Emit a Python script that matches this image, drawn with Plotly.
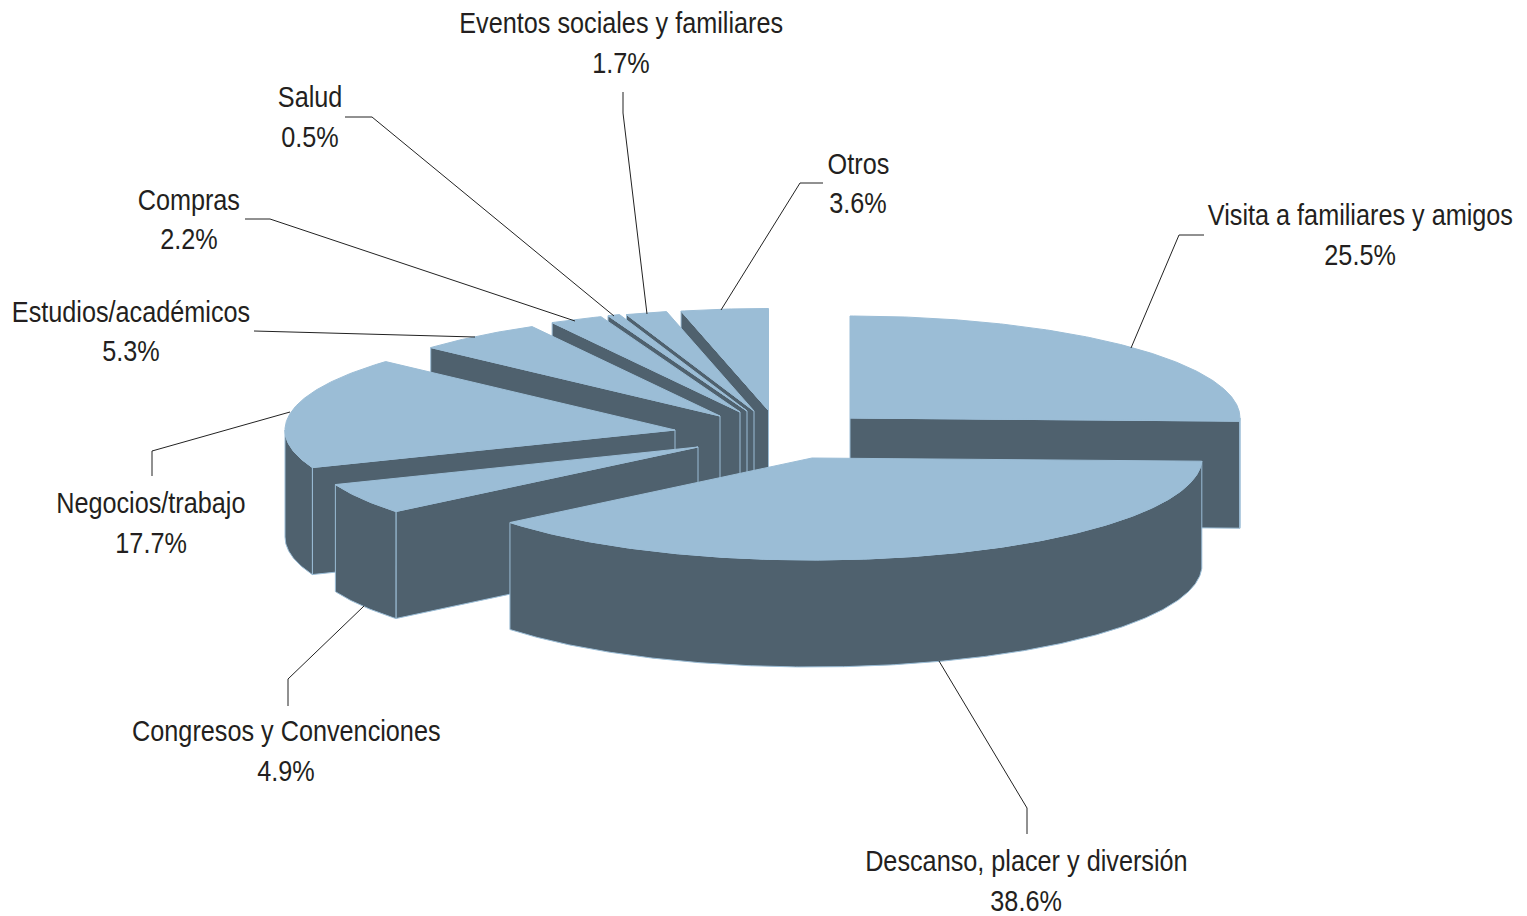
import math
import plotly.graph_objects as go

categories = ["Visita a familiares y amigos", "Descanso, placer y diversión", "Congresos y Convenciones",
              "Negocios/trabajo", "Estudios/académicos", "Compras", "Salud",
              "Eventos sociales y familiares", "Otros"]
values = [25.5, 38.6, 4.9, 17.7, 5.3, 2.2, 0.5, 1.7, 3.6]

# exploded slice apex in chart coordinates (layout, not data)
apex_x = [850, 812, 698, 675, 720, 740, 747, 754, 768.5]
apex_y = [418, 458, 447, 430, 416, 412, 411, 411, 410.5]
draw_order = [8, 7, 6, 5, 4, 3, 0, 2, 1]

label_x = [1360, 1026, 286, 151, 131, 189, 310, 621, 858]
label_y = [215, 861, 731, 503, 312, 200, 97, 23, 164]
pct_y = [255, 901, 771, 543, 351, 238.5, 136.5, 63, 203]
leaders = [
    ([1131, 1179, 1204], [348, 235, 235]),
    ([939, 1027, 1027], [661, 808, 834]),
    ([364, 288, 288], [606, 679, 706]),
    ([290, 152, 152], [412, 451, 476]),
    ([475, 270, 254], [337, 331, 331]),
    ([575, 270, 245], [321, 219, 219]),
    ([614, 372, 345], [316, 117, 117]),
    ([647, 623, 623], [314, 113, 92]),
    ([721, 800, 823], [310, 183, 183]),
]

RX, RY, DEPTH = 390, 102, 107
LIGHT, DARK, TEXT = "#9BBDD6", "#4F616E", "#231F20"

fig = go.Figure()


def poly(xs, ys, fill, edge, width=1):
    fig.add_trace(go.Scatter(x=xs + xs[:1], y=ys + ys[:1], mode="lines", fill="toself",
                             fillcolor=fill, line=dict(color=edge, width=width),
                             hoverinfo="skip", showlegend=False))


def pt(i, deg):
    r = math.radians(deg)
    return apex_x[i] + RX * math.sin(r), apex_y[i] - RY * math.cos(r)


# slice angles from values
starts, ends, acc = [], [], 0.0
total = sum(values)
for v in values:
    starts.append(acc / total * 360)
    acc += v
    ends.append(acc / total * 360)

for i in draw_order:
    a0, a1 = starts[i], ends[i]
    ax, ay = apex_x[i], apex_y[i]
    # radial faces facing the viewer
    for deg, normal in ((a0, a0 - 90), (a1, a1 + 90)):
        if math.cos(math.radians(normal)) < -1e-6:
            ex, ey = pt(i, deg)
            poly([ax, ex, ex, ax], [ay, ey, ey + DEPTH, ay + DEPTH], DARK, LIGHT)
    # outer wall
    lo, hi = max(a0, 90), min(a1, 270)
    if hi > lo:
        n = max(2, int(hi - lo) * 2)
        degs = [lo + (hi - lo) * k / n for k in range(n + 1)]
        p = [pt(i, d) for d in degs]
        xs = [q[0] for q in p]
        ys = [q[1] for q in p]
        poly(xs + xs[::-1], ys + [y + DEPTH for y in ys[::-1]], DARK, LIGHT)
    # top face
    n = max(4, int(a1 - a0) * 2)
    p = [pt(i, a0 + (a1 - a0) * k / n) for k in range(n + 1)]
    poly([ax] + [q[0] for q in p], [ay] + [q[1] for q in p], LIGHT, LIGHT)

for xs, ys in leaders:
    fig.add_trace(go.Scatter(x=xs, y=ys, mode="lines", line=dict(color="#222222", width=1),
                             hoverinfo="skip", showlegend=False))

font = dict(family="Liberation Sans", size=29, color=TEXT)
for c, v, x, y, y2 in zip(categories, values, label_x, label_y, pct_y):
    fig.add_annotation(x=x, y=y, text=c, showarrow=False, font=font, xanchor="center", yanchor="middle")
    fig.add_annotation(x=x, y=y2, text=f"{v:.1f}%", showarrow=False, font=font, xanchor="center", yanchor="middle")

fig.update_layout(
    width=1527, height=916, margin=dict(l=0, r=0, t=0, b=0), autosize=False,
    paper_bgcolor="white", plot_bgcolor="white", showlegend=False,
    xaxis=dict(range=[0, 1527], visible=False, fixedrange=True),
    yaxis=dict(range=[916, 0], visible=False, fixedrange=True),
)
narrow = """
document.body.style.margin='0';document.body.style.overflow='hidden';
document.querySelectorAll('.annotation-text').forEach(function(t){
  var b=t.getBBox(), cx=b.x+b.width/2;
  t.setAttribute('transform','translate('+cx+' 0) scale(0.87 1) translate('+(-cx)+' 0)');
});
"""
fig.write_html("out.html", config={"displayModeBar": False}, post_script=narrow)
